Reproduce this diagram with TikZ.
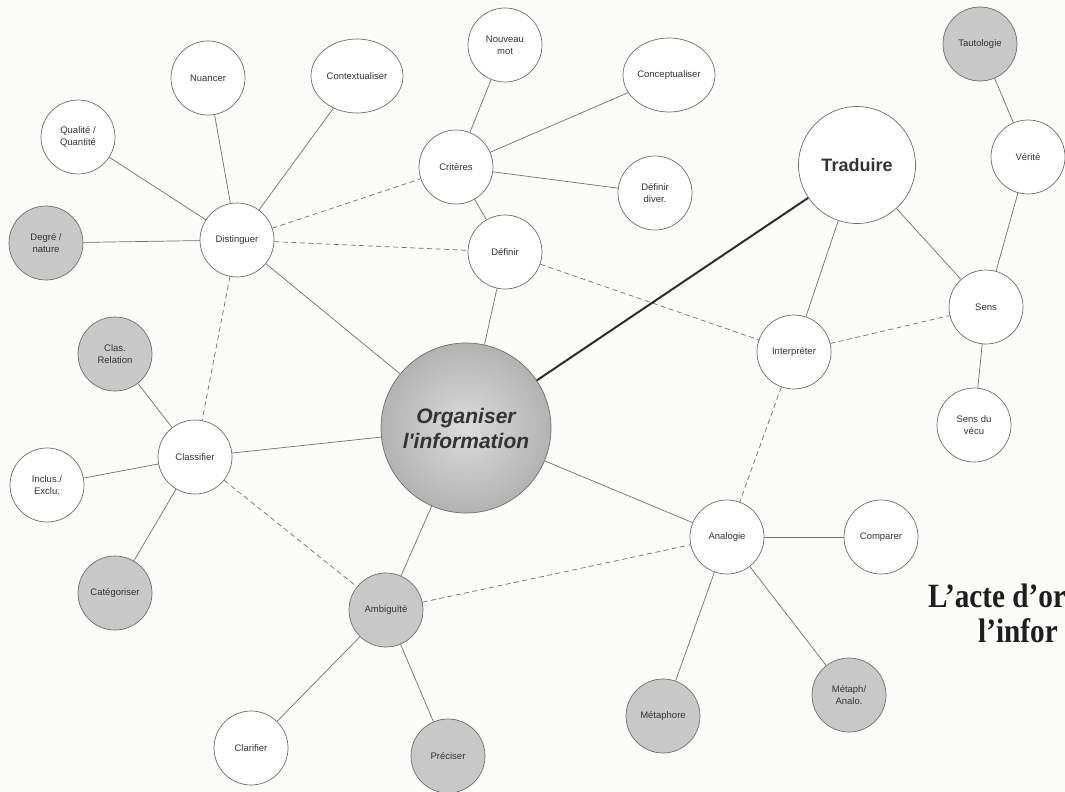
\documentclass[tikz,border=0pt]{standalone}
\usepackage{fontspec}
\setmainfont{Liberation Sans}
\newfontfamily\titlefont{Liberation Serif}
\usetikzlibrary{shapes.geometric}
\definecolor{paper}{HTML}{FBFBF9}
\definecolor{nodeline}{HTML}{6E6E6E}
\definecolor{edgecol}{HTML}{707070}
\definecolor{textcol}{HTML}{333333}
\definecolor{titlecol}{HTML}{1E1E1E}
\definecolor{shadefill}{HTML}{C8C8C8}
\definecolor{heavycol}{HTML}{2E2E2E}
\tikzset{
  bubble/.style={circle, draw=nodeline, line width=0.7pt, fill=white, minimum size=74pt,
    inner sep=0pt, align=center, font=\fontsize{9.5}{12}\selectfont, text=textcol},
  graybubble/.style={bubble, fill=shadefill},
  oval/.style={bubble, ellipse, minimum width=92pt, minimum height=74pt},
  link/.style={draw=edgecol, line width=0.7pt},
  dlink/.style={link, dash pattern=on 5pt off 3.5pt},
  heavy/.style={draw=heavycol, line width=2pt},
  titletext/.style={anchor=base west, inner sep=0pt, text=titlecol,
    font=\titlefont\bfseries\fontsize{34}{40}\selectfont},
}
\begin{document}
\begin{tikzpicture}[x=1pt,y=-1pt]
\fill[paper] (0,0) rectangle (1065,792);
\useasboundingbox (0,0) rectangle (1065,792);

% main nodes
\node[circle, draw=nodeline, line width=0.7pt, minimum size=170pt, inner sep=0pt,
  inner color=black!14, outer color=black!30, align=center, text=textcol,
  font=\bfseries\itshape\fontsize{21}{25}\selectfont] (org) at (466,428) {Organiser\\l\textquotesingle information};
\node[bubble, minimum size=117pt, font=\bfseries\fontsize{18}{20}\selectfont] (trad) at (857,165) {Traduire};

% left cluster
\node[bubble] (nuan) at (208,78) {Nuancer};
\node[oval] (cont) at (357,76) {Contextualiser};
\node[bubble] (qual) at (78,137) {Qualité /\\Quantité};
\node[graybubble] (degre) at (46,243) {Degré /\\nature};
\node[bubble] (dist) at (237,240) {Distinguer};

% criteres cluster
\node[bubble] (nouv) at (505,45) {Nouveau\\mot};
\node[oval] (conc) at (669,75) {Conceptualiser};
\node[bubble] (crit) at (456,167) {Critères};
\node[bubble] (defdiv) at (655,193) {Définir\\diver.};
\node[bubble] (def) at (505,252) {Définir};

% right cluster
\node[graybubble] (taut) at (980,44) {Tautologie};
\node[bubble] (verite) at (1028,157) {Vérité};
\node[bubble] (sens) at (986,307) {Sens};
\node[bubble] (interp) at (794,352) {Interpréter};
\node[bubble] (vecu) at (974,425) {Sens du\\vécu};

% classifier cluster
\node[graybubble] (clas) at (115,354) {Clas.\\Relation};
\node[bubble] (classif) at (195,457) {Classifier};
\node[bubble] (inclus) at (47,485) {Inclus./\\Exclu.};
\node[graybubble] (categ) at (115,593) {Catégoriser};

% bottom
\node[graybubble] (ambig) at (386,610) {Ambiguïté};
\node[bubble] (clar) at (251,748) {Clarifier};
\node[graybubble] (prec) at (448,756) {Préciser};
\node[bubble] (analog) at (727,537) {Analogie};
\node[bubble] (comp) at (881,537) {Comparer};
\node[graybubble] (meta) at (663,716) {Métaphore};
\node[graybubble] (metan) at (849,695) {Métaph/\\Analo.};

% solid links
\draw[link] (dist) -- (nuan);
\draw[link] (dist) -- (cont);
\draw[link] (dist) -- (qual);
\draw[link] (dist) -- (degre);
\draw[link] (dist) -- (org);
\draw[link] (crit) -- (nouv);
\draw[link] (crit) -- (conc);
\draw[link] (crit) -- (defdiv);
\draw[link] (crit) -- (def);
\draw[link] (def) -- (org);
\draw[link] (trad) -- (interp);
\draw[link] (trad) -- (sens);
\draw[link] (taut) -- (verite);
\draw[link] (verite) -- (sens);
\draw[link] (sens) -- (vecu);
\draw[link] (classif) -- (clas);
\draw[link] (classif) -- (inclus);
\draw[link] (classif) -- (categ);
\draw[link] (classif) -- (org);
\draw[link] (org) -- (ambig);
\draw[link] (org) -- (analog);
\draw[link] (ambig) -- (clar);
\draw[link] (ambig) -- (prec);
\draw[link] (analog) -- (comp);
\draw[link] (analog) -- (meta);
\draw[link] (analog) -- (metan);
\draw[heavy] (org) -- (trad);

% dashed links
\draw[dlink] (dist) -- (crit);
\draw[dlink] (dist) -- (def);
\draw[dlink] (dist) -- (classif);
\draw[dlink] (def) -- (interp);
\draw[dlink] (interp) -- (sens);
\draw[dlink] (interp) -- (analog);
\draw[dlink] (classif) -- (ambig);
\draw[dlink] (ambig) -- (analog);

% title (cut at the page edge)
\begin{scope}
\clip (0,0) rectangle (1065,792);
\node[titletext] (t1) at (928,607) {\scalebox{0.86}[1]{L’acte d’or}};
\node[titletext] (t2) at (978,642) {\scalebox{0.86}[1]{l’infor}};
\end{scope}
\end{tikzpicture}
\end{document}
